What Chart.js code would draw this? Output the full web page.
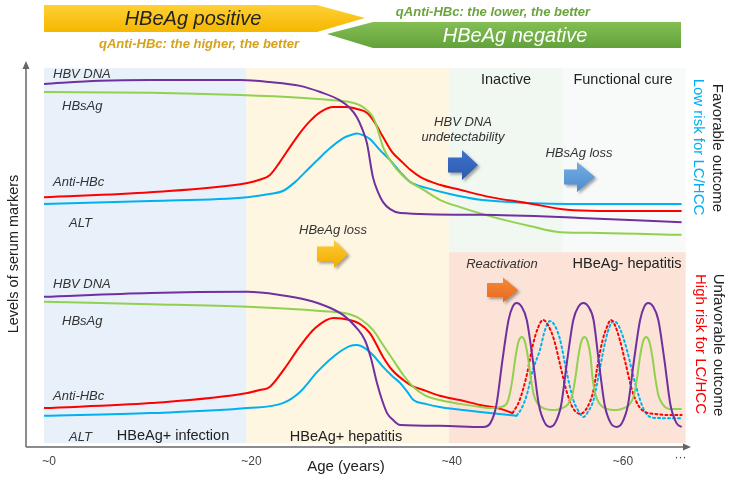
<!DOCTYPE html>
<html><head><meta charset="utf-8">
<script src="https://cdn.jsdelivr.net/npm/chart.js@4/dist/chart.umd.min.js"></script>
<style>html,body{margin:0;padding:0;background:#fff}canvas{display:block}</style>
</head><body>
<canvas id="c" width="729" height="480"></canvas>
<script>
// ---------- data: x = age (years), y = relative level of serum marker ----------
// Favorable outcome (upper panel)
const hbvDnaTop = [[0,94.3],[5.5,95.1],[10.5,95.3],[15.4,95.3],[19.4,95.3],[22.3,94.8],[25.3,93.8],[27.3,92.2],[29.2,90.1],[30.2,88.1],[30.9,85.7],[31.4,82.9],[31.9,79.0],[32.5,70.1],[33.0,66.2],[33.5,63.6],[34.2,61.8],[35.2,60.8],[43.1,60.3],[53.0,59.5],[63.0,58.4]];
const hbsagTop = [[0,92.2],[10.5,92.0],[19.4,91.4],[25.3,90.7],[28.3,90.1],[30.2,89.6],[31.2,88.8],[31.9,87.5],[32.5,85.7],[32.9,83.1],[33.5,77.9],[34.2,74.5],[34.9,72.0],[36.2,68.8],[37.5,66.8],[39.1,64.2],[41.1,62.3],[44.4,59.7],[48.0,57.4],[51.0,55.8],[54.9,55.6],[63.0,55.1]];
const antiHbcTop = [[0,64.9],[10.5,66.2],[20.1,68.6],[21.3,69.4],[22.3,70.6],[23.3,74.0],[24.3,77.9],[25.3,81.6],[26.3,84.7],[27.3,87.0],[28.6,88.3],[29.9,88.3],[30.9,87.8],[31.9,86.8],[32.7,84.2],[33.5,80.5],[34.4,76.6],[35.2,74.5],[36.2,72.0],[37.2,70.1],[39.1,68.1],[41.1,66.8],[44.1,64.9],[47.7,63.4],[51.7,61.6],[54.9,61.3],[63.0,61.3]];
const altTop = [[0,63.1],[10.5,63.9],[20.1,64.9],[22.3,65.7],[23.6,66.5],[24.8,68.8],[25.8,71.4],[27.0,74.5],[28.3,77.7],[29.7,80.4],[30.4,81.1],[30.9,81.4],[31.5,81.0],[32.2,80.0],[33.2,77.1],[34.2,74.5],[35.2,71.4],[36.2,68.8],[37.8,67.3],[40.1,65.7],[43.1,64.2],[47.7,63.4],[54.9,63.1],[63.0,63.1]];
// Unfavorable outcome (lower panel)
const hbvDnaBottom = [[0,39.0],[10.5,40.0],[20.1,40.3],[23.3,39.5],[26.0,38.2],[28.3,36.1],[29.7,34.0],[30.9,30.9],[31.7,27.8],[32.3,23.1],[32.9,16.6],[33.4,12.2],[33.9,8.8],[34.5,7.0],[35.2,5.7],[39.1,5.5],[43.4,5.2],[44.1,6.2],[44.7,10.9],[45.3,22.6],[45.9,33.0],[46.3,36.4],[46.7,37.4],[47.2,36.4],[47.7,33.0],[48.3,22.6],[48.9,10.9],[49.5,6.2],[50.0,5.2],[50.5,6.2],[51.1,10.9],[51.7,22.6],[52.3,33.0],[52.8,36.4],[53.3,37.4],[53.8,36.4],[54.3,33.0],[54.8,22.6],[55.4,10.9],[56.0,6.2],[56.6,5.2],[57.1,6.2],[57.7,10.9],[58.3,22.6],[58.9,33.0],[59.3,36.4],[59.7,37.4],[60.2,36.4],[60.7,33.0],[61.3,22.6],[61.9,10.9],[62.5,6.2],[63.0,5.2]];
const hbsagBottom = [[0,37.7],[10.5,37.1],[20.1,36.4],[27.3,35.3],[30.2,34.5],[31.4,33.0],[32.5,30.4],[33.5,26.5],[34.5,22.6],[35.5,18.7],[36.5,15.6],[37.6,13.5],[39.1,12.2],[41.1,11.2],[43.1,10.4],[44.4,10.1],[45.1,10.4],[45.7,11.2],[46.0,13.5],[46.3,17.9],[46.6,23.6],[46.9,27.5],[47.2,28.6],[47.5,27.5],[47.8,23.6],[48.1,17.9],[48.4,13.5],[48.8,11.2],[49.5,9.9],[50.5,9.6],[51.2,10.1],[51.8,11.2],[52.2,13.5],[52.5,17.9],[52.8,23.6],[53.1,27.5],[53.4,28.6],[53.7,27.5],[54.0,23.6],[54.2,17.9],[54.5,13.5],[54.9,11.2],[55.6,9.9],[56.6,9.6],[57.3,10.1],[57.9,11.2],[58.3,13.5],[58.6,17.9],[58.9,23.6],[59.2,27.5],[59.5,28.6],[59.8,27.5],[60.1,23.6],[60.4,17.9],[60.7,13.5],[61.1,11.2],[61.8,9.9],[63.0,9.9]];
const antiHbcBottom = [[0,10.1],[10.5,11.4],[20.1,14.0],[21.3,14.8],[22.3,15.6],[23.8,20.5],[25.3,26.2],[26.8,30.9],[28.6,33.5],[30.2,33.0],[31.2,32.0],[32.2,29.6],[33.5,23.4],[34.4,20.0],[35.5,17.4],[36.4,15.8],[37.5,14.8],[39.1,13.3],[41.1,12.2],[43.1,10.9],[45.1,9.9],[46.3,8.8]];
const antiHbcReact = [[46.3,8.8],[47.0,12.2],[47.7,18.7],[48.3,26.5],[48.8,30.9],[49.3,33.0],[49.8,31.7],[50.4,27.8],[51.0,21.3],[51.6,14.8],[52.2,10.4],[53.0,8.6],[53.7,10.4],[54.3,14.8],[54.7,21.3],[55.2,27.8],[55.7,31.7],[56.0,33.0],[56.4,31.7],[56.9,27.8],[57.5,21.3],[58.1,14.8],[58.7,10.9],[59.4,9.1],[60.4,8.6],[61.7,8.3],[63.0,8.3]];
const altBottom = [[0,8.1],[10.5,8.8],[20.1,10.1],[23.6,11.4],[25.3,14.3],[27.0,19.5],[28.8,23.9],[30.2,26.2],[30.9,26.5],[31.7,25.7],[32.5,23.9],[33.5,20.8],[34.5,18.2],[35.2,16.6],[35.9,14.3],[36.5,12.2],[37.7,11.2],[39.1,10.4],[43.1,9.1],[46.7,8.1]];
const altReact = [[46.7,8.1],[47.2,10.1],[47.7,13.5],[48.3,20.0],[49.0,25.2],[49.5,30.4],[50.0,32.7],[50.5,31.4],[51.0,27.8],[51.6,20.0],[52.3,12.2],[52.8,9.4],[53.3,7.8],[53.8,9.4],[54.3,12.2],[54.9,20.0],[55.5,27.8],[55.9,31.4],[56.3,32.7],[56.8,31.4],[57.6,25.2],[58.2,18.7],[58.9,12.2],[59.4,9.1],[59.9,7.8],[60.9,7.5],[63.0,7.5]];

// phases (age ranges and level ranges)
const phaseNames = ['HBeAg+ infection','HBeAg+ hepatitis','Inactive','Functional cure','HBeAg- hepatitis'];
const phaseStart = [0, 20, 40, 51.3, 40];
const phaseEnd   = [20, 40, 51.3, 63.4, 63.4];
const phaseLow   = [1, 1, 50.6, 50.6, 1];
const phaseHigh  = [98.4, 98.4, 98.4, 98.4, 50.6];
const phaseColors = ['#E8F0FA','#FEF6E0','#F1F7F1','#F8F9F9','#FBE3D8'];

// age tick labels
const tickValues = [0.5, 20.5, 40.3, 57.2, 62.9];
const tickLabels = ['~0','~20','~40','~60','···'];

const markerNames = ['HBV DNA','HBsAg','Anti-HBc','ALT'];
const C = {dna:'#7030A0', hbs:'#92D050', anti:'#FF0000', alt:'#00B0F0'};

const F = "'Liberation Sans', Arial, Helvetica, sans-serif";

function pts(a){ return a.map(p => ({x:p[0], y:p[1]})); }
function ds(label, arr, color, dashed){
  return {label, data: pts(arr), borderColor: color, borderWidth: 2, pointRadius: 0,
    cubicInterpolationMode: 'monotone', fill: false, borderDash: dashed ? [2,3] : [],
    borderCapStyle: dashed ? 'round' : 'butt'};
}

function blockArrow(ctx, x0, tip, yc, bodyH, headH, headLen, c1, c2){
  ctx.save();
  ctx.shadowColor = 'rgba(0,0,0,0.35)'; ctx.shadowBlur = 3; ctx.shadowOffsetX = 2; ctx.shadowOffsetY = 2;
  const g = ctx.createLinearGradient(0, yc - headH/2, 0, yc + headH/2);
  g.addColorStop(0, c1); g.addColorStop(1, c2);
  ctx.fillStyle = g;
  const hx = tip - headLen;
  ctx.beginPath();
  ctx.moveTo(x0, yc - bodyH/2); ctx.lineTo(hx, yc - bodyH/2); ctx.lineTo(hx, yc - headH/2);
  ctx.lineTo(tip, yc); ctx.lineTo(hx, yc + headH/2); ctx.lineTo(hx, yc + bodyH/2);
  ctx.lineTo(x0, yc + bodyH/2); ctx.closePath(); ctx.fill();
  ctx.restore();
}

function text(ctx, s, x, y, font, color, align){
  ctx.font = font; ctx.fillStyle = color; ctx.textAlign = align || 'left'; ctx.textBaseline = 'middle';
  ctx.fillText(s, x, y);
}

const bgPlugin = {
  id: 'bg',
  beforeDatasetsDraw(chart){
    const {ctx, scales:{x, y}} = chart;
    ctx.save();
    for (let i = 0; i < phaseNames.length; i++){
      const l = x.getPixelForValue(phaseStart[i]), r = x.getPixelForValue(phaseEnd[i]);
      const t = y.getPixelForValue(phaseHigh[i]), b = y.getPixelForValue(phaseLow[i]);
      ctx.fillStyle = phaseColors[i];
      ctx.fillRect(l, t, r - l, b - t);
    }
    ctx.restore();
  }
};

const decoPlugin = {
  id: 'deco',
  afterDatasetsDraw(chart){
    const {ctx, chartArea:a, scales:{x, y}} = chart;
    ctx.save();
    // axes
    ctx.strokeStyle = '#666'; ctx.fillStyle = '#666'; ctx.lineWidth = 1.5;
    ctx.beginPath(); ctx.moveTo(a.left, a.bottom); ctx.lineTo(a.left, a.top + 3); ctx.stroke();
    ctx.beginPath(); ctx.moveTo(a.left - 3.5, a.top + 7); ctx.lineTo(a.left, a.top - 1); ctx.lineTo(a.left + 3.5, a.top + 7); ctx.closePath(); ctx.fill();
    ctx.beginPath(); ctx.moveTo(a.left, a.bottom); ctx.lineTo(a.right - 4, a.bottom); ctx.stroke();
    ctx.beginPath(); ctx.moveTo(a.right - 7, a.bottom - 3.5); ctx.lineTo(a.right + 1, a.bottom); ctx.lineTo(a.right - 7, a.bottom + 3.5); ctx.closePath(); ctx.fill();

    // ticks
    for (let i = 0; i < tickValues.length; i++){
      const isDots = tickLabels[i] === '···';
      text(ctx, tickLabels[i], x.getPixelForValue(tickValues[i]), a.bottom + (isDots ? 11 : 15), '12px ' + F, '#444', 'center');
    }
    text(ctx, 'Age (years)', 346, 467, '15px ' + F, '#222', 'center');

    // y axis title
    ctx.save(); ctx.translate(14, 254); ctx.rotate(-Math.PI/2);
    text(ctx, 'Levels of serum markers', 0, 0, '14.5px ' + F, '#222', 'center');
    ctx.restore();

    // phase labels
    const pf = '14.5px ' + F;
    text(ctx, phaseNames[0], 173, 436, pf, '#222', 'center');
    text(ctx, phaseNames[1], 346, 437, pf, '#222', 'center');
    text(ctx, phaseNames[2], 506, 80, pf, '#222', 'center');
    text(ctx, phaseNames[3], 623, 80, pf, '#222', 'center');
    text(ctx, phaseNames[4], 627, 264, pf, '#222', 'center');

    // marker labels
    const mf = 'italic 13px ' + F, mc = '#333';
    const lx = [53, 62, 53, 69], topY = [74, 106, 182, 223], botY = [284, 321, 396, 437];
    for (let i = 0; i < 4; i++){
      text(ctx, markerNames[i], lx[i], topY[i], mf, mc);
      text(ctx, markerNames[i], lx[i], botY[i], mf, mc);
    }

    // event annotations
    text(ctx, 'HBeAg loss', 333, 230, mf, mc, 'center');
    text(ctx, 'HBV DNA', 463, 122, mf, mc, 'center');
    text(ctx, 'undetectability', 463, 137, mf, mc, 'center');
    text(ctx, 'HBsAg loss', 579, 153, mf, mc, 'center');
    text(ctx, 'Reactivation', 502, 264, mf, mc, 'center');

    blockArrow(ctx, 317, 348, 254, 15, 28, 14, '#FFCC33', '#F0AA00');
    blockArrow(ctx, 448, 478, 165, 15, 30, 16, '#3F72CC', '#2D5AAE');
    blockArrow(ctx, 564, 595, 177, 15, 30, 18, '#73AEE4', '#4E8BCB');
    blockArrow(ctx, 487, 518, 290, 14, 25, 15, '#F58A3A', '#E8691C');

    // right side outcome labels
    const rf = '15px ' + F;
    ctx.save(); ctx.translate(717, 148); ctx.rotate(Math.PI/2);
    text(ctx, 'Favorable outcome', 0, 0, rf, '#222', 'center'); ctx.restore();
    ctx.save(); ctx.translate(698, 147); ctx.rotate(Math.PI/2);
    text(ctx, 'Low risk for LC/HCC', 0, 0, rf, '#00B0F0', 'center'); ctx.restore();
    ctx.save(); ctx.translate(718, 345); ctx.rotate(Math.PI/2);
    text(ctx, 'Unfavorable outcome', 0, 0, rf, '#222', 'center'); ctx.restore();
    ctx.save(); ctx.translate(700, 344); ctx.rotate(Math.PI/2);
    text(ctx, 'High risk for LC/HCC', 0, 0, rf, '#FF0000', 'center'); ctx.restore();

    // top banner
    let g = ctx.createLinearGradient(0, 5, 0, 32);
    g.addColorStop(0, '#FFD035'); g.addColorStop(1, '#F5B700');
    ctx.fillStyle = g;
    ctx.beginPath(); ctx.moveTo(44, 5); ctx.lineTo(317, 5); ctx.lineTo(365, 18); ctx.lineTo(317, 32); ctx.lineTo(44, 32); ctx.closePath(); ctx.fill();
    g = ctx.createLinearGradient(0, 22, 0, 48);
    g.addColorStop(0, '#84BE55'); g.addColorStop(1, '#62A23A');
    ctx.fillStyle = g;
    ctx.beginPath(); ctx.moveTo(681, 22); ctx.lineTo(373, 22); ctx.lineTo(327, 34); ctx.lineTo(373, 48); ctx.lineTo(681, 48); ctx.closePath(); ctx.fill();
    text(ctx, 'HBeAg positive', 193, 19, 'italic 20px ' + F, '#222', 'center');
    text(ctx, 'HBeAg negative', 515, 36, 'italic 20px ' + F, '#FFFFFF', 'center');
    text(ctx, 'qAnti-HBc: the lower, the better', 493, 12, 'italic bold 13px ' + F, '#6AA53C', 'center');
    text(ctx, 'qAnti-HBc: the higher, the better', 199, 44, 'italic bold 13px ' + F, '#D4A21C', 'center');
    ctx.restore();
  }
};

new Chart(document.getElementById('c'), {
  type: 'line',
  data: { datasets: [
    ds('HBV DNA', hbvDnaTop, C.dna), ds('HBsAg', hbsagTop, C.hbs), ds('Anti-HBc', antiHbcTop, C.anti), ds('ALT', altTop, C.alt),
    ds('HBV DNA', hbvDnaBottom, C.dna), ds('HBsAg', hbsagBottom, C.hbs), ds('Anti-HBc', antiHbcBottom, C.anti), ds('ALT', altBottom, C.alt),
    ds('Anti-HBc', antiHbcReact, C.anti, true), ds('ALT', altReact, C.alt, true)
  ]},
  options: {
    responsive: false, animation: false, devicePixelRatio: 1,
    layout: { padding: { left: 26, right: 39, top: 62, bottom: 33 } },
    plugins: { legend: { display: false }, tooltip: { enabled: false }, title: { display: false } },
    scales: {
      x: { type: 'linear', min: -1.78, max: 63.83, display: false },
      y: { type: 'linear', min: 0, max: 100, display: false }
    }
  },
  plugins: [bgPlugin, decoPlugin]
});
</script>
</body></html>
